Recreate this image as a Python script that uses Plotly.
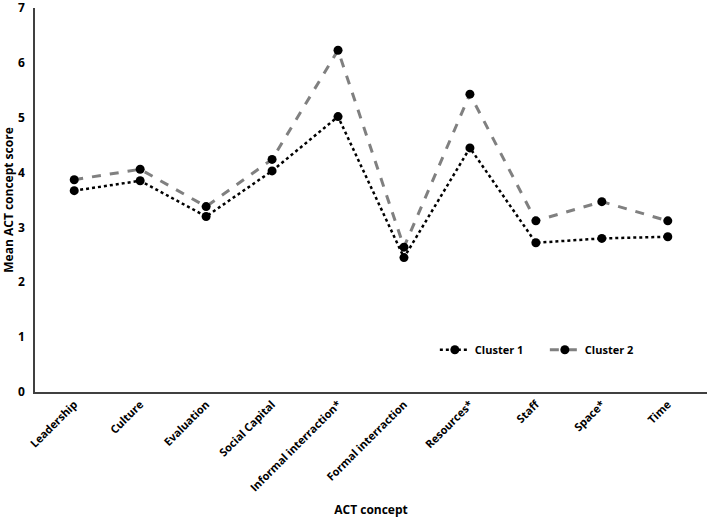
import plotly.graph_objects as go

concepts = ['Leadership', 'Culture', 'Evaluation', 'Social Capital',
            'Informal interraction*', 'Formal interraction', 'Resources*',
            'Staff', 'Space*', 'Time']
cluster1 = [3.67, 3.85, 3.20, 4.03, 5.02, 2.45, 4.45, 2.72, 2.80, 2.83]
cluster2 = [3.87, 4.06, 3.38, 4.24, 6.23, 2.64, 5.43, 3.12, 3.47, 3.12]

font_family = 'Open Sans'

fig = go.Figure()
fig.add_trace(go.Scatter(
    name='Cluster 1', x=concepts, y=cluster1, mode='lines+markers',
    line=dict(color='black', width=2.5, dash='dot'),
    marker=dict(color='black', size=9)
))
fig.add_trace(go.Scatter(
    name='Cluster 2', x=concepts, y=cluster2, mode='lines+markers',
    line=dict(color='#808080', width=3, dash='dash'),
    marker=dict(color='black', size=9)
))

fig.update_layout(
    width=709, height=518,
    margin=dict(l=35, r=2, t=8, b=126),
    plot_bgcolor='white', paper_bgcolor='white',
    font=dict(family=font_family, color='black', size=11, weight='bold'),
    legend=dict(orientation='h', x=0.595, y=0.11, xanchor='left', yanchor='middle',
                font=dict(size=11, weight='bold'), bgcolor='rgba(0,0,0,0)',
                entrywidth=65),
    xaxis=dict(
        showline=True, linecolor='#404040', linewidth=1.5, showgrid=False,
        tickangle=-45, tickfont=dict(size=11, weight='bold'), ticks='',
        automargin=False,
        title=dict(text='ACT concept', font=dict(size=12, weight='bold'), standoff=14)
    ),
    yaxis=dict(
        range=[0, 7], dtick=1, showline=True, linecolor='#404040', linewidth=1.5,
        showgrid=False, zeroline=False, ticks='', tickfont=dict(size=12, weight='bold'),
        ticklabeloverflow='allow', automargin=False, ticklabelstandoff=6,
        title=dict(text='Mean ACT concept score', font=dict(size=12, weight='bold'), standoff=3)
    ),
)

# page has a default body margin; remove it so the figure sits at the top-left corner
fig.write_html('out.html', config={'displayModeBar': False},
               post_script="document.body.style.margin='0';")
